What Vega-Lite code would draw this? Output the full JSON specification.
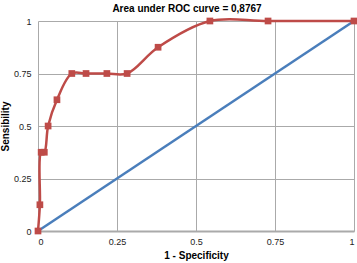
{
  "$schema": "https://vega.github.io/schema/vega-lite/v6.json",
  "width": 316,
  "height": 210,
  "autosize": "none",
  "padding": {"left": 38, "top": 21, "right": 3, "bottom": 32},
  "background": "white",
  "title": {"text": "Area under ROC curve = 0,8767", "font": "Liberation Sans", "fontSize": 10, "fontWeight": "bold", "offset": 0, "dx": -9, "color": "#000"},
  "config": {
    "view": {"stroke": null},
    "axis": {"labelFont": "Liberation Sans", "titleFont": "Liberation Sans", "labelFontSize": 9, "titleFontSize": 10, "titleFontWeight": "bold", "labelColor": "#222", "titleColor": "#000", "gridColor": "#aaaaaa", "gridWidth": 1, "gridOpacity": 1, "ticks": false, "domainColor": "#aaaaaa", "domainWidth": 2}
  },
  "datasets": {
    "roc": [
      {"fpr": 0, "tpr": 0},
      {"fpr": 0.006, "tpr": 0.125},
      {"fpr": 0.01, "tpr": 0.375},
      {"fpr": 0.02, "tpr": 0.375},
      {"fpr": 0.032, "tpr": 0.5},
      {"fpr": 0.06, "tpr": 0.625},
      {"fpr": 0.107, "tpr": 0.75},
      {"fpr": 0.152, "tpr": 0.75},
      {"fpr": 0.218, "tpr": 0.75},
      {"fpr": 0.282, "tpr": 0.75},
      {"fpr": 0.38, "tpr": 0.875},
      {"fpr": 0.544, "tpr": 1},
      {"fpr": 0.728, "tpr": 1},
      {"fpr": 1, "tpr": 1}
    ],
    "diag": [
      {"fpr": 0, "tpr": 0},
      {"fpr": 1, "tpr": 1}
    ]
  },
  "encoding": {
    "x": {"field": "fpr", "type": "quantitative", "scale": {"domain": [0, 1], "nice": false}, "axis": {"values": [0, 0.25, 0.5, 0.75, 1], "labelExpr": "'' + datum.value", "title": "1 - Specificity", "labelPadding": 6, "titlePadding": 4, "grid": true}},
    "y": {"field": "tpr", "type": "quantitative", "scale": {"domain": [0, 1], "nice": false}, "axis": {"values": [0, 0.25, 0.5, 0.75, 1], "labelExpr": "'' + datum.value", "title": "Sensibility", "labelPadding": 7, "titlePadding": 3, "grid": true, "domain": false}}
  },
  "layer": [
    {"data": {"name": "diag"}, "mark": {"type": "line", "color": "#4a7ebb", "strokeWidth": 2.5}},
    {"data": {"name": "roc"}, "mark": {"type": "line", "color": "#be4b48", "strokeWidth": 2.5, "interpolate": "catmull-rom"}},
    {"data": {"name": "roc"}, "mark": {"type": "point", "shape": "square", "filled": true, "color": "#be4b48", "size": 45, "opacity": 1}}
  ]
}
